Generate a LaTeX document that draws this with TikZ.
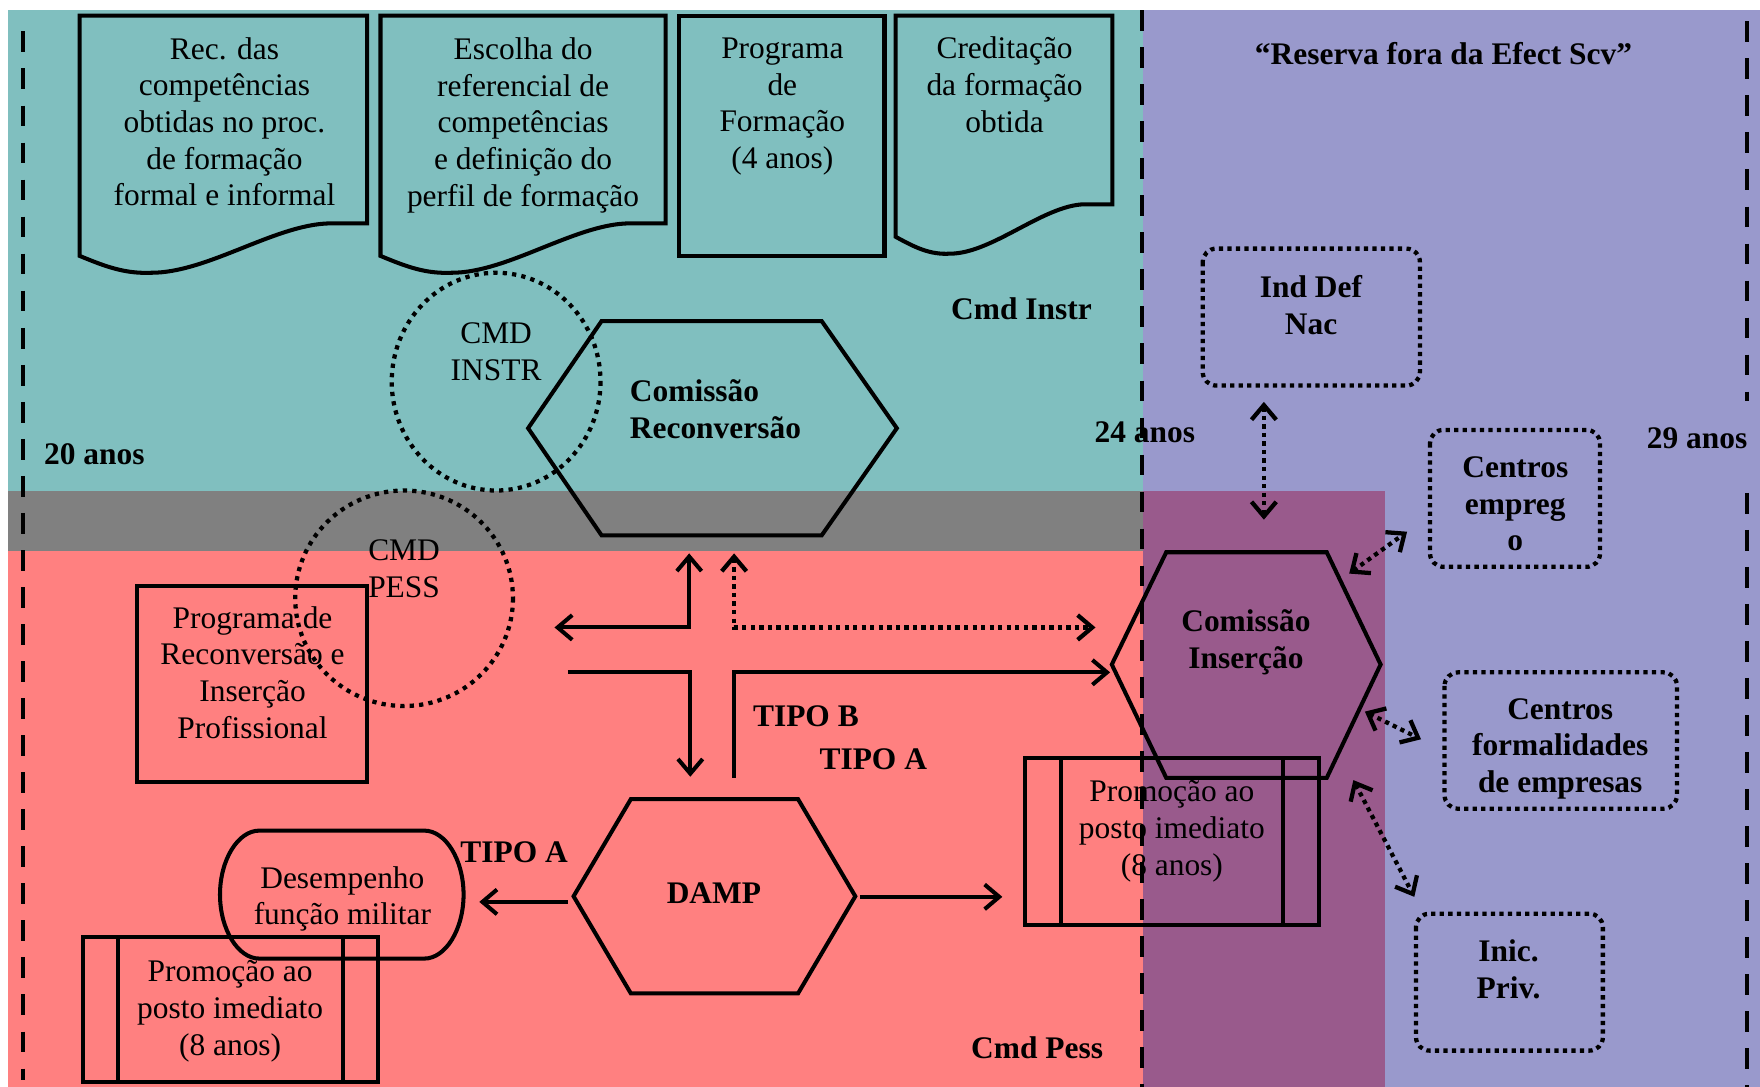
\documentclass[tikz,border=0pt]{standalone}
\usepackage{fontspec}
\setmainfont{Liberation Serif}
\usetikzlibrary{arrows.meta}

\definecolor{tealbg}{HTML}{80BFBF}
\definecolor{lavbg}{HTML}{9999CC}
\definecolor{pinkbg}{HTML}{FF8080}
\definecolor{graybg}{HTML}{808080}
\definecolor{plumbg}{HTML}{995A8C}

% document symbol with a wavy lower edge: left, right, top, bottom of the right side
\newcommand\docpath[4]{%
  \draw[outline] (#1,#3) -- (#2,#3) -- (#2,#4) -- ({#2-0.13*(#2-#1)},#4)
    .. controls ({#1+0.68*(#2-#1)},{#4+1}) and ({#1+0.445*(#2-#1)},{#4+44}) .. ({#1+0.25*(#2-#1)},{#4+44})
    .. controls ({#1+0.16*(#2-#1)},{#4+45}) and ({#1+0.094*(#2-#1)},{#4+39}) .. (#1,{#4+29}) -- cycle;}

% predefined-process box: left, top, right, bottom, inner offset
\newcommand\procbox[5]{%
  \draw[outline] (#1,#2) rectangle (#3,#4);
  \draw[outline] ({#1+#5},#2) -- ({#1+#5},#4);
  \draw[outline] ({#3-#5},#2) -- ({#3-#5},#4);}

\begin{document}
\begin{tikzpicture}[x=1pt,y=-1pt,
  txt/.style={font=\fontsize{28}{32.7}\selectfont, align=center, inner sep=0pt},
  btxt/.style={font=\fontsize{28}{32.7}\selectfont\bfseries, align=center, inner sep=0pt},
  outline/.style={line width=3.6pt, line join=miter},
  dotline/.style={line width=3.8pt, dash pattern=on 3.8pt off 3.8pt},
  dotring/.style={line width=3.8pt, dash pattern=on 3.8pt off 4.6pt},
  dashline/.style={line width=4pt, dash pattern=on 18.5pt off 14.5pt},
  >={Straight Barb[length=13pt,width=22pt]},
  flow/.style={line width=3.6pt, ->},
  flowtwo/.style={line width=3.6pt, <->},
  dflowtwo/.style={dotline, <->}]

\useasboundingbox (0,0) rectangle (1568,968);

% background zones
\fill[white] (0,0) rectangle (1568,968);
\fill[tealbg] (7,9) rectangle (1018,437);
\fill[graybg] (7,437) rectangle (1018,491);
\fill[pinkbg] (7,491) rectangle (1018,968);
\fill[lavbg] (1018,9) rectangle (1568,968);
\fill[plumbg] (1018,437) rectangle (1234,968);

% top row: training steps
\docpath{71}{327}{14}{199}
\docpath{339}{593}{14}{199}
\draw[outline] (605,14) rectangle (788,228);
\docpath{798}{991}{14}{182}

\node[txt] (rec) at (200,108.5) {Rec. das\\competências\\obtidas no proc.\\de formação\\formal e informal};
\node[txt] (esc) at (466,111.5) {Escolha do\\referencial de\\competências\\e definição do\\perfil de formação};
\node[txt] (prog) at (697,95) {Programa\\de\\Formação\\(4 anos)};
\node[txt] (cred) at (895,75.5) {Creditação\\da formação\\obtida};

% Comissão Reconversão
\draw[outline] (536,286) -- (732,286) -- (799,381.5) -- (732,477) -- (536,477) -- (470.5,381.5) -- cycle;
\node[btxt, align=left, anchor=west] (crec) at (561,364.5) {Comissão\\Reconversão};

% commands (dotted circles)
\draw[dotring] (442,340) ellipse [x radius=93, y radius=97];
\node[txt] (cmdi) at (442,313.5) {CMD\\INSTR};

% Programa de Reconversão e Inserção Profissional
\draw[outline] (122,522) rectangle (327,697);
\node[txt] (prip) at (225,599) {Programa de\\Reconversão e\\Inserção\\Profissional};

\draw[dotring] (360,533) ellipse [x radius=97, y radius=96];
\node[txt] (cmdp) at (360,506.5) {CMD\\PESS};

% DAMP
\draw[outline] (562,712) -- (711,712) -- (762,798.5) -- (711,885) -- (562,885) -- (511,798.5) -- cycle;
\node[btxt] (damp) at (636,796) {DAMP};

% Desempenho função militar
\draw[outline] (231,740) -- (378,740) .. controls (397,740) and (413,766) .. (413,797)
  .. controls (413,828) and (397,854) .. (378,854) -- (231,854)
  .. controls (212,854) and (196,828) .. (196,797) .. controls (196,766) and (212,740) .. (231,740) -- cycle;
\node[txt] (desf) at (305,801) {Desempenho\\função militar};

% promotions
\procbox{74}{835}{337}{964}{31}
\node[txt] (promL) at (205,901) {Promoção ao\\posto imediato\\(8 anos)};
\procbox{913}{675}{1175}{824}{32}
\node[txt] (promR) at (1044,740.5) {Promoção ao\\posto imediato\\(8 anos)};

% Comissão Inserção
\draw[outline] (1039,492) -- (1182,492) -- (1230,592) -- (1182,693) -- (1039,693) -- (990.5,592) -- cycle;
\node[btxt] (cins) at (1110,572.5) {Comissão\\Inserção};

% external partners
\draw[dotline, rounded corners=12pt] (1071.5,221.5) rectangle (1265,343.5);
\node[btxt] (idn) at (1168,271.5) {Ind Def\\Nac};
\draw[dotline, rounded corners=12pt] (1274,383) rectangle (1425.5,505);
\node[btxt] (cemp) at (1350,449) {Centros\\empreg\\o};
\draw[dotline, rounded corners=12pt] (1287,599) rectangle (1494,720.5);
\node[btxt] (cfor) at (1390,667) {Centros\\formalidades\\de empresas};
\draw[dotline, rounded corners=12pt] (1261.5,814) rectangle (1428,936);
\node[btxt] (ipri) at (1344,863.5) {Inic.\\Priv.};

% connector end points
\coordinate (crossL) at (494,559);
\coordinate (crossJ) at (614,559);
\coordinate (crossU) at (614,493);
\coordinate (dotU) at (654,493);
\coordinate (dotR) at (976,559);
\coordinate (feedL) at (506,599);
\coordinate (feedD) at (615,692);
\coordinate (tipoBs) at (654,693);
\coordinate (insL) at (989,599);
\coordinate (dampR) at (766,799);
\coordinate (promRin) at (893,799);
\coordinate (dampL) at (506,803.5);
\coordinate (desfR) at (427,803.5);
\coordinate (idnS) at (1126,358);
\coordinate (cinsN) at (1126,463);
\coordinate (cinsNE) at (1202,511);
\coordinate (cempW) at (1253.6,473.7);
\coordinate (cinsE) at (1216,634);
\coordinate (cforW) at (1266,658.6);
\coordinate (cinsSE) at (1205.7,695);
\coordinate (ipriN) at (1260,799);

% flows
\draw[flowtwo] (crossL) -- (crossJ) -- (crossU);
\draw[dflowtwo] (dotU) |- (dotR);
\draw[flow] (feedL) -| (feedD);
\draw[flow] (tipoBs) |- (insL);
\draw[flow] (dampR) -- (promRin);
\draw[flow] (dampL) -- (desfR);
\draw[dflowtwo] (idnS) -- (cinsN);
\draw[dflowtwo] (cinsNE) -- (cempW);
\draw[dflowtwo] (cinsE) -- (cforW);
\draw[dflowtwo] (cinsSE) -- (ipriN);

% labels
\node[btxt] (tipB) at (718,638) {TIPO B};
\node[btxt] (tipA1) at (778,676) {TIPO A};
\node[btxt] (tipA2) at (458,759) {TIPO A};
\node[btxt] (cmdI) at (910,275) {Cmd Instr};
\node[btxt] (cmdP) at (924,933) {Cmd Pess};
\node[btxt] (resv) at (1286,48) {“Reserva fora da Efect Scv”};

% age boundaries
\draw[dashline] (20.5,28) -- (20.5,962);
\draw[dashline] (1017.5,9) -- (1017.5,968);
\draw[dashline] (1556.5,19) -- (1556.5,357);
\draw[dashline] (1556.5,439) -- (1556.5,968);
\node[btxt] (a20) at (84,405) {20 anos};
\node[btxt] (a24) at (1020,385) {24 anos};
\node[btxt] (a29) at (1512,390) {29 anos};

\end{tikzpicture}
\end{document}
